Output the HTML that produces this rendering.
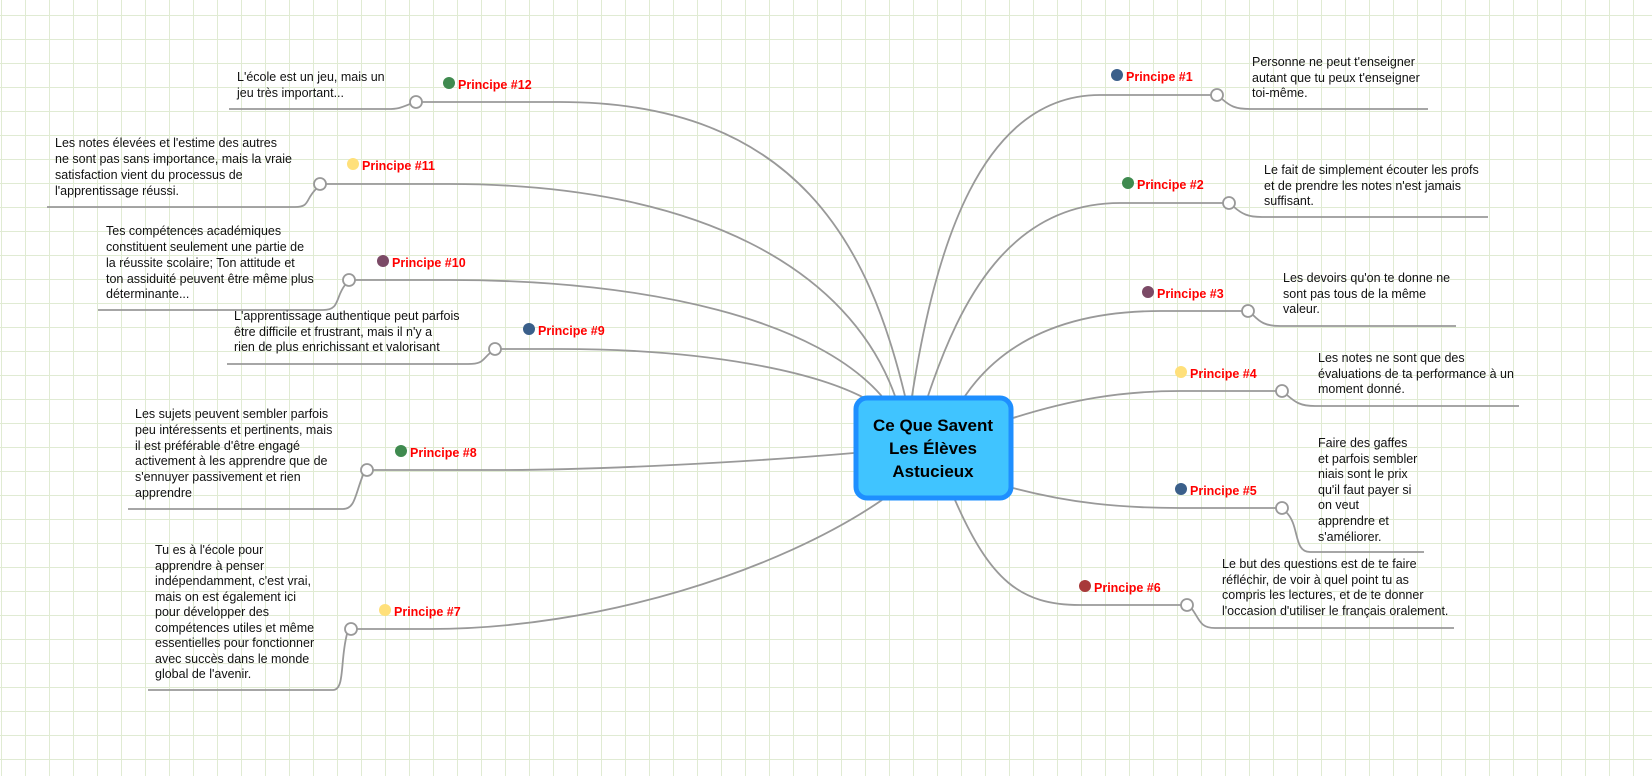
<!DOCTYPE html>
<html><head><meta charset="utf-8"><style>
html,body{margin:0;padding:0;width:1652px;height:776px;overflow:hidden;background:#fff;}
svg{display:block;}
text{font-family:"Liberation Sans",sans-serif;font-size:12.5px;fill:#111;}
.l{font-weight:bold;fill:#ff0000;font-size:12.5px;}
.c{font-weight:bold;font-size:17px;fill:#000;}
</style></head><body>
<svg width="1652" height="776" xmlns="http://www.w3.org/2000/svg">
<defs><pattern id="g" x="1" y="15" width="24" height="24" patternUnits="userSpaceOnUse"><path d="M0.5 0V24M0 0.5H24" fill="none" stroke="#e0ebd3" stroke-width="1"/></pattern></defs>
<rect width="1652" height="776" fill="url(#g)"/>
<g fill="none" stroke="#999" stroke-width="1.8">
<path d="M912 396C935 250 980 95 1100 95L1211 95"/>
<path d="M1222 99C1230 106 1235 109 1250 109L1428 109"/>
<path d="M928 396C960 300 1010 203 1120 203L1223 203"/>
<path d="M1234 207C1242 214 1248 217 1262 217L1488 217"/>
<path d="M965 396C1000 345 1060 311 1160 311L1242 311"/>
<path d="M1253 315C1260 322 1265 326 1280 326L1456 326"/>
<path d="M1013 418C1070 400 1120 391 1180 391L1276 391"/>
<path d="M1287 395C1295 402 1300 406 1315 406L1519 406"/>
<path d="M1013 488C1070 503 1120 508 1180 508L1276 508"/>
<path d="M1286 512C1300 525 1293 552 1310 552L1424 552"/>
<path d="M955 500C990 580 1020 605 1080 605L1181 605"/>
<path d="M1192 609C1200 620 1200 628 1215 628L1454 628"/>
<path d="M905 396C870 250 800 102 560 102L422 102"/>
<path d="M410 104C400 108 398 109 388 109L229 109"/>
<path d="M895 396C850 270 700 184 450 184L326 184"/>
<path d="M316 189C305 200 310 207 295 207L47 207"/>
<path d="M885 400C820 320 650 280 450 280L355 280"/>
<path d="M345 285C335 298 340 310 323 310L98 310"/>
<path d="M875 404C820 370 700 349 560 349L501 349"/>
<path d="M490 353C482 360 483 364 468 364L227 364"/>
<path d="M854 453C750 462 600 470 500 470L373 470"/>
<path d="M363 475C355 495 355 509 343 509L128 509"/>
<path d="M882 500C780 570 600 629 430 629L357 629"/>
<path d="M347 634C340 660 345 690 333 690L148 690"/>
</g>
<g fill="#fff" stroke="#999" stroke-width="1.8">
<circle cx="1217" cy="95" r="6"/><circle cx="1229" cy="203" r="6"/><circle cx="1248" cy="311" r="6"/><circle cx="1282" cy="391" r="6"/><circle cx="1282" cy="508" r="6"/><circle cx="1187" cy="605" r="6"/>
<circle cx="416" cy="102" r="6"/><circle cx="320" cy="184" r="6"/><circle cx="349" cy="280" r="6"/><circle cx="495" cy="349" r="6"/><circle cx="367" cy="470" r="6"/><circle cx="351" cy="629" r="6"/>
</g>
<rect x="856" y="398" width="155" height="100" rx="11" fill="#40c4ff" stroke="#1e8fff" stroke-width="5"/>
<text class="c" x="933" y="431" text-anchor="middle">Ce Que Savent</text>
<text class="c" x="933" y="454" text-anchor="middle">Les Élèves</text>
<text class="c" x="933" y="477" text-anchor="middle">Astucieux</text>
<circle cx="1117" cy="75" r="6" fill="#3a5f8a"/><text class="l" x="1126" y="81">Principe #1</text>
<circle cx="1128" cy="183" r="6" fill="#3f8a4f"/><text class="l" x="1137" y="189">Principe #2</text>
<circle cx="1148" cy="292" r="6" fill="#7b4a66"/><text class="l" x="1157" y="298">Principe #3</text>
<circle cx="1181" cy="372" r="6" fill="#ffe07a"/><text class="l" x="1190" y="378">Principe #4</text>
<circle cx="1181" cy="489" r="6" fill="#3a5f8a"/><text class="l" x="1190" y="495">Principe #5</text>
<circle cx="1085" cy="586" r="6" fill="#a83a3a"/><text class="l" x="1094" y="592">Principe #6</text>
<circle cx="449" cy="83" r="6" fill="#3f8a4f"/><text class="l" x="458" y="89">Principe #12</text>
<circle cx="353" cy="164" r="6" fill="#ffe07a"/><text class="l" x="362" y="170">Principe #11</text>
<circle cx="383" cy="261" r="6" fill="#7b4a66"/><text class="l" x="392" y="267">Principe #10</text>
<circle cx="529" cy="329" r="6" fill="#3a5f8a"/><text class="l" x="538" y="335">Principe #9</text>
<circle cx="401" cy="451" r="6" fill="#3f8a4f"/><text class="l" x="410" y="457">Principe #8</text>
<circle cx="385" cy="610" r="6" fill="#ffe07a"/><text class="l" x="394" y="616">Principe #7</text>
<text x="1252" y="66">Personne ne peut t'enseigner</text><text x="1252" y="82">autant que tu peux t'enseigner</text><text x="1252" y="97">toi-même.</text>
<text x="1264" y="174">Le fait de simplement écouter les profs</text><text x="1264" y="190">et de prendre les notes n'est jamais</text><text x="1264" y="205">suffisant.</text>
<text x="1283" y="282">Les devoirs qu'on te donne ne</text><text x="1283" y="298">sont pas tous de la même</text><text x="1283" y="313">valeur.</text>
<text x="1318" y="362">Les notes ne sont que des</text><text x="1318" y="378">évaluations de ta performance à un</text><text x="1318" y="393">moment donné.</text>
<text x="1318" y="447">Faire des gaffes</text><text x="1318" y="463">et parfois sembler</text><text x="1318" y="478">niais sont le prix</text><text x="1318" y="494">qu'il faut payer si</text><text x="1318" y="509">on veut</text><text x="1318" y="525">apprendre et</text><text x="1318" y="541">s'améliorer.</text>
<text x="1222" y="568">Le but des questions est de te faire</text><text x="1222" y="584">réfléchir, de voir à quel point tu as</text><text x="1222" y="599">compris les lectures, et de te donner</text><text x="1222" y="615">l'occasion d'utiliser le français oralement.</text>
<text x="237" y="81">L'école est un jeu, mais un</text><text x="237" y="97">jeu très important...</text>
<text x="55" y="147">Les notes élevées et l'estime des autres</text><text x="55" y="163">ne sont pas sans importance, mais la vraie</text><text x="55" y="179">satisfaction vient du processus de</text><text x="55" y="195">l'apprentissage réussi.</text>
<text x="106" y="235">Tes compétences académiques</text><text x="106" y="251">constituent seulement une partie de</text><text x="106" y="267">la réussite scolaire; Ton attitude et</text><text x="106" y="283">ton assiduité peuvent être même plus</text><text x="106" y="298">déterminante...</text>
<text x="234" y="320">L'apprentissage authentique peut parfois</text><text x="234" y="336">être difficile et frustrant, mais il n'y a</text><text x="234" y="351">rien de plus enrichissant et valorisant</text>
<text x="135" y="418">Les sujets peuvent sembler parfois</text><text x="135" y="434">peu intéressents et pertinents, mais</text><text x="135" y="450">il est préférable d'être engagé</text><text x="135" y="465">activement à les apprendre que de</text><text x="135" y="481">s'ennuyer passivement et rien</text><text x="135" y="497">apprendre</text>
<text x="155" y="554">Tu es à l'école pour</text><text x="155" y="570">apprendre à penser</text><text x="155" y="585">indépendamment, c'est vrai,</text><text x="155" y="601">mais on est également ici</text><text x="155" y="616">pour développer des</text><text x="155" y="632">compétences utiles et même</text><text x="155" y="647">essentielles pour fonctionner</text><text x="155" y="663">avec succès dans le monde</text><text x="155" y="678">global de l'avenir.</text>
</svg>
</body></html>
